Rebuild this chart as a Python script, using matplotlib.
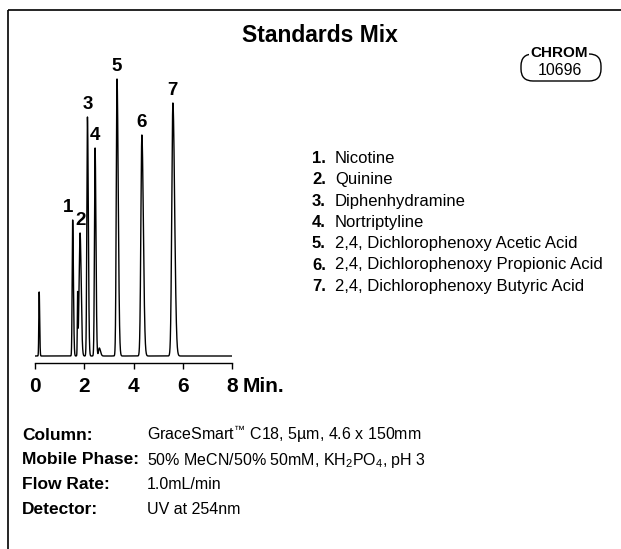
import numpy as np
import matplotlib
matplotlib.use('Agg')
import matplotlib.pyplot as plt
import matplotlib.font_manager as fm
from matplotlib.patches import FancyBboxPatch

# pick a condensed sans if there is one
names = {f.name for f in fm.fontManager.ttflist}
narrow = 'Liberation Sans Narrow' if 'Liberation Sans Narrow' in names else 'Liberation Sans'
plt.rcParams['font.family'] = [narrow, 'DejaVu Sans']

# peak table (time in min, response in arbitrary units)
rt = [0.17, 1.53, 1.73, 1.83, 2.13, 2.44, 2.61, 3.33, 4.34, 5.60]
height = [64, 136, 59, 123, 239, 208, 8, 277, 221, 253]
sigma_left = [0.015, 0.02, 0.012, 0.04, 0.025, 0.025, 0.03, 0.03, 0.04, 0.045]
sigma_right = [0.02, 0.03, 0.012, 0.045, 0.035, 0.035, 0.05, 0.05, 0.06, 0.07]

peak_labels = ['1', '2', '3', '4', '5', '6', '7']
labelled = [1, 3, 4, 5, 7, 8, 9]   # index into the peak table

compounds = ['Nicotine', 'Quinine', 'Diphenhydramine', 'Nortriptyline',
             '2,4, Dichlorophenoxy Acetic Acid',
             '2,4, Dichlorophenoxy Propionic Acid',
             '2,4, Dichlorophenoxy Butyric Acid']

xticks = [0, 2, 4, 6, 8]

cond_keys = ['Column:', 'Mobile Phase:', 'Flow Rate:', 'Detector:']
cond_vals = ['GraceSmart$^{\\mathregular{\u2122}}$ C18, 5\u00b5m, 4.6 x 150mm',
             '50% MeCN/50% 50mM, $\\mathregular{KH_2PO_4}$, pH 3',
             '1.0mL/min',
             'UV at 254nm']

W, H = 621, 549
fig = plt.figure(figsize=(W / 100, H / 100), dpi=100)

# background layer in pixel units for frame, badge and text blocks
bg = fig.add_axes([0, 0, 1, 1])
bg.set_xlim(0, W)
bg.set_ylim(H, 0)
bg.axis('off')

bg.plot([8, W], [10, 10], color='black', lw=1.2, solid_capstyle='butt')
bg.plot([8, 8], [10, H], color='black', lw=1.2, solid_capstyle='butt')

bg.text(320, 42, 'Standards Mix', fontsize=16.5, fontweight='bold', ha='center', va='baseline')

badge = FancyBboxPatch((521, 54), 80, 27, boxstyle='round,pad=0,rounding_size=12',
                       facecolor='white', edgecolor='black', lw=1.0)
bg.add_patch(badge)
bg.text(559, 57, 'CHROM', fontsize=11, fontweight='bold', ha='center', va='baseline',
        bbox=dict(facecolor='white', edgecolor='none', pad=0.5))
bg.text(560, 75, '10696', fontsize=11.5, ha='center', va='baseline')

# compound list
for i, name in enumerate(compounds):
    y = 163 + i * 21.3
    bg.text(312, y, f'{i + 1}.', fontsize=12, fontweight='bold', ha='left', va='baseline')
    bg.text(335, y, name, fontsize=12, ha='left', va='baseline')

# conditions
for i, (k, v) in enumerate(zip(cond_keys, cond_vals)):
    y = 440 + i * 24.5
    bg.text(22, y, k, fontsize=12.5, fontweight='bold', ha='left', va='baseline')
    bg.text(147, y, v, fontsize=11.5, ha='left', va='baseline')

# chromatogram
ax = fig.add_axes([35 / W, (H - 362.5) / H, 197 / W, 296.5 / H])
t = np.linspace(0, 8, 8001)
signal = np.zeros_like(t)
for r, h, sl, sr in zip(rt, height, sigma_left, sigma_right):
    s = np.where(t < r, sl, sr)
    signal += h * np.exp(-0.5 * ((t - r) / s) ** 2)
ax.plot(t, signal, color='black', lw=1.0)
ax.set_xlim(0, 8)
ax.set_ylim(-6.5, 290)
ax.patch.set_alpha(0)

for lab, idx in zip(peak_labels, labelled):
    dx = -3 if lab == '1' else 0
    ax.annotate(lab, (rt[idx], height[idx]), xytext=(dx, 3), textcoords='offset points',
                ha='center', va='bottom', fontsize=13.5, fontweight='bold')

for side in ['left', 'right', 'top']:
    ax.spines[side].set_visible(False)
ax.spines['bottom'].set_linewidth(1.0)
ax.set_yticks([])
ax.set_xticks(xticks)
ax.set_xticklabels([str(x) for x in xticks], fontsize=15, fontweight='bold')
ax.tick_params(axis='x', direction='out', length=4.5, width=1.0, pad=6)
ax.annotate('Min.', (8, 0), xycoords=('data', 'axes fraction'), xytext=(8, -10.5),
            textcoords='offset points', ha='left', va='top', fontsize=15, fontweight='bold')

fig.savefig('out.png', dpi=100)
